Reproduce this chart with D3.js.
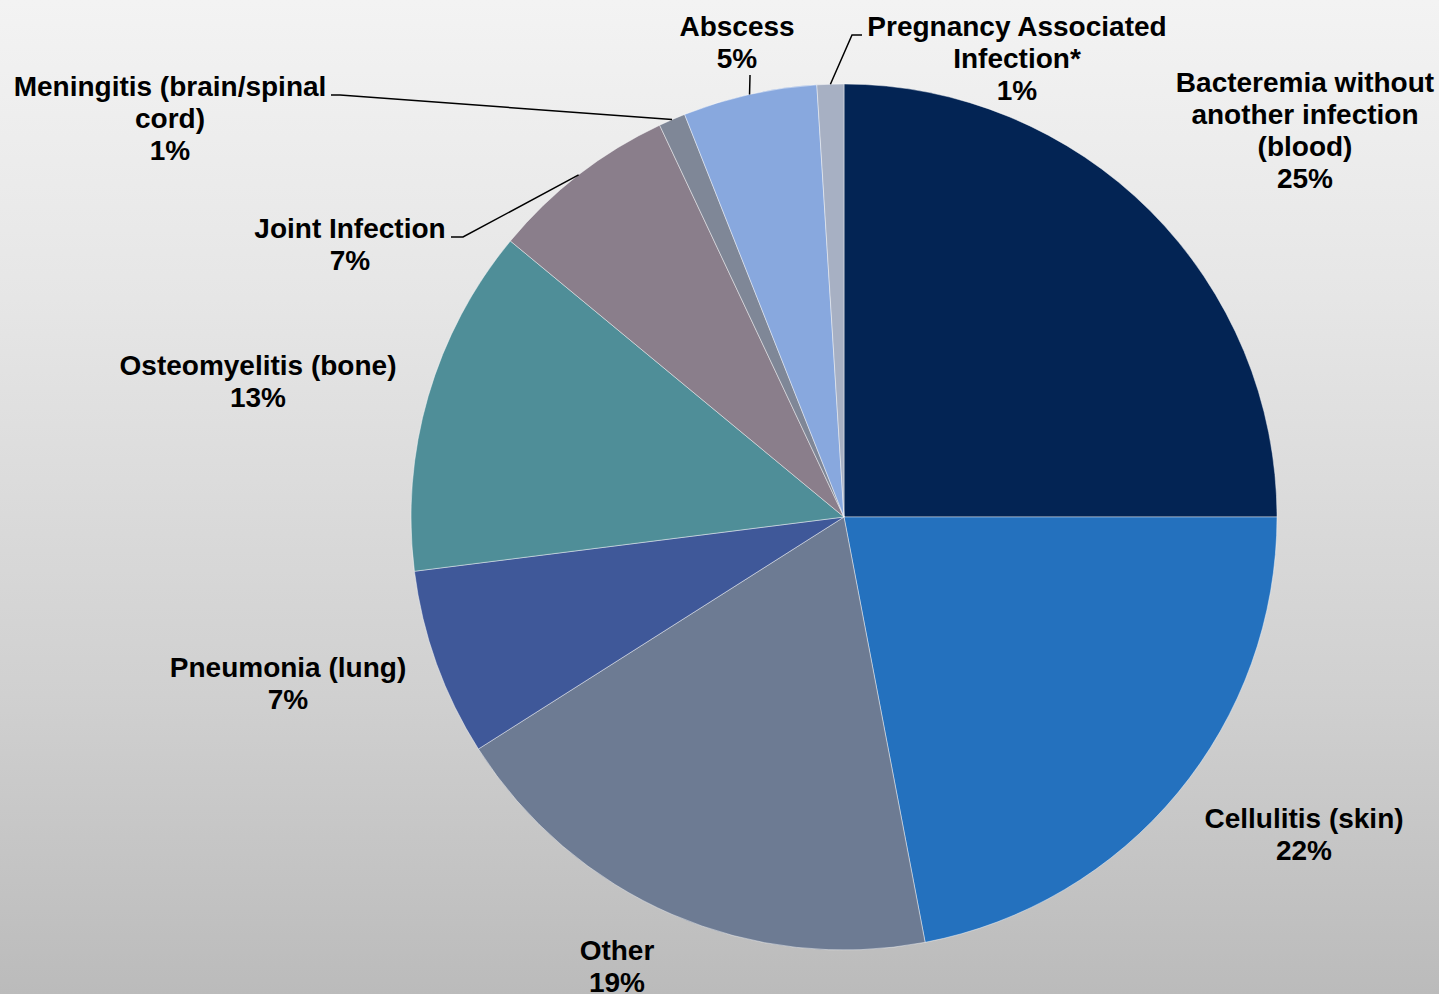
<!DOCTYPE html>
<html>
<head>
<meta charset="utf-8">
<script src="https://cdn.jsdelivr.net/npm/d3@7"></script>
<style>
  html, body { margin: 0; padding: 0; background: #ffffff; }
  svg { display: block; }
  text { font-family: "Liberation Sans", Arial, sans-serif; font-weight: bold; fill: #000; }
</style>
</head>
<body>
<svg id="chart" width="1439" height="994"></svg>
<script>
// Infection types, listed clockwise from 12 o'clock
const categories = [
  "Bacteremia without another infection (blood)",
  "Cellulitis (skin)",
  "Other",
  "Pneumonia (lung)",
  "Osteomyelitis (bone)",
  "Joint Infection",
  "Meningitis (brain/spinal cord)",
  "Abscess",
  "Pregnancy Associated Infection*"
];
const percents = [25, 22, 19, 7, 13, 7, 1, 5, 1];
const sliceColors = ["#032454", "#2471be", "#6d7b93", "#3f5899", "#4f8e98",
                     "#8a7e8b", "#7f8797", "#88a8de", "#a7b0c3"];

// Label lines as they are wrapped in the chart
const labelLines = [
  ["Bacteremia without", "another infection", "(blood)"],
  ["Cellulitis (skin)"],
  ["Other"],
  ["Pneumonia (lung)"],
  ["Osteomyelitis (bone)"],
  ["Joint Infection"],
  ["Meningitis (brain/spinal", "cord)"],
  ["Abscess"],
  ["Pregnancy Associated", "Infection*"]
];

// Label placement: centre x, first baseline y, and optional leader line start
const labelLayout = [
  { x: 1305, y: 92 },
  { x: 1304, y: 828 },
  { x: 617,  y: 960 },
  { x: 288,  y: 677 },
  { x: 258,  y: 375 },
  { x: 350,  y: 238, leader: [[451, 237], [463, 237]] },
  { x: 170,  y: 96,  leader: [[331, 95], [340, 95]] },
  { x: 737,  y: 36,  leader: [[750, 75], [750, 76]] },
  { x: 1017, y: 36,  leader: [[862, 35], [852, 35]] }
];

const W = 1439, H = 994;
const cx = 844, cy = 517, R = 433;
const fontSize = 28, lineGap = 32;

const svg = d3.select("#chart");

// Background gradient
const defs = svg.append("defs");
const grad = defs.append("linearGradient")
  .attr("id", "bg").attr("x1", 0).attr("y1", 0).attr("x2", 0).attr("y2", 1);
[[0, "#f3f3f3"], [0.3, "#e6e6e6"], [0.7, "#d0d0d0"], [1, "#bbbbbb"]]
  .forEach(([o, c]) => grad.append("stop").attr("offset", o).attr("stop-color", c));
svg.append("rect").attr("width", W).attr("height", H).attr("fill", "url(#bg)");

const data = categories.map((c, i) => ({ name: c, value: percents[i], color: sliceColors[i], i }));

const pie = d3.pie().value(d => d.value).sort(null);
const arcs = pie(data);
const arc = d3.arc().innerRadius(0).outerRadius(R);

const g = svg.append("g").attr("transform", `translate(${cx},${cy})`);

g.selectAll("path.slice")
  .data(arcs)
  .join("path")
  .attr("class", "slice")
  .attr("d", arc)
  .attr("fill", d => d.data.color)
  .attr("stroke", "rgba(255,255,255,0.55)")
  .attr("stroke-width", 0.8)
  .attr("stroke-linejoin", "round");

// Leader lines: from the label to the middle of the slice's outer edge
arcs.forEach((a, i) => {
  const lay = labelLayout[i];
  if (!lay.leader) return;
  const mid = (a.startAngle + a.endAngle) / 2;
  const ex = cx + R * Math.sin(mid);
  const ey = cy - R * Math.cos(mid);
  const pts = lay.leader.concat([[ex, ey]]);
  svg.append("path")
    .attr("d", d3.line()(pts))
    .attr("fill", "none")
    .attr("stroke", "#000")
    .attr("stroke-width", 1.5);
});

// Labels: category name lines followed by the percentage
arcs.forEach((a, i) => {
  const lay = labelLayout[i];
  const lines = labelLines[i].concat([`${a.data.value}%`]);
  const t = svg.append("text")
    .attr("text-anchor", "middle")
    .attr("font-size", fontSize);
  lines.forEach((ln, k) => {
    t.append("tspan")
      .attr("x", lay.x)
      .attr("y", lay.y + k * lineGap)
      .text(ln);
  });
});
</script>
</body>
</html>
